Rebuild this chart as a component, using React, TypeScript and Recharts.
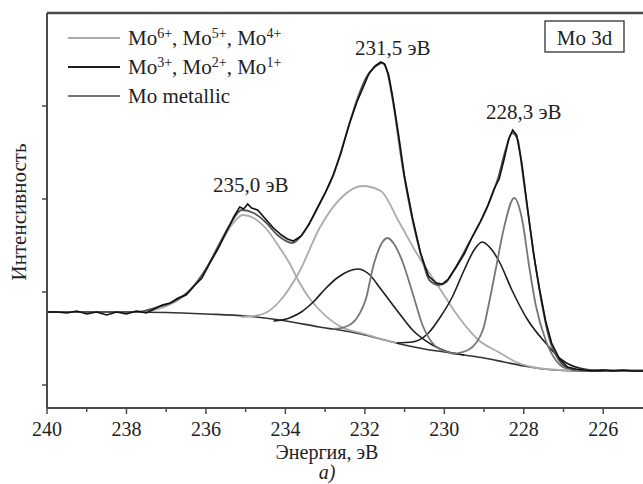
import React from 'react'
import { LineChart, Line, XAxis, YAxis } from 'recharts'

// Mo 3d spectrum: binding energy (eV) vs intensity (arb. units)
const bgEnergy = [240, 239, 238, 237, 236, 235, 234.14, 233.14, 232.1, 231.5, 231, 230.5, 230, 229.5, 229, 228.5, 228, 227.5, 227, 226, 225]
const bgIntensity = [73, 73, 73, 72.5, 71, 69, 65, 58, 51, 45, 40, 36, 33, 30, 27, 23, 19, 16, 14.5, 14, 14]

const mo6aEnergy = [238, 237.6, 237.2, 236.83, 236.4, 236, 235.65, 235.35, 235.07, 234.8, 234.5, 234.14, 233.9, 233.64, 233.4, 233.14, 232.64, 232, 231.6, 231.2]
const mo6aIntensity = [73, 73.5, 76, 82, 94, 116, 140, 160, 170, 167, 157, 137, 122, 102, 87, 75, 59, 51, 46, 42]

const mo6bEnergy = [235.1, 234.8, 234.5, 234.14, 233.64, 233.14, 232.6, 232.06, 231.6, 231.14, 230.64, 230.14, 229.64, 229.14, 228.64, 228.2, 227.8, 227.3, 226.8]
const mo6bIntensity = [68, 69, 72, 84, 114, 157, 187, 199, 194, 163, 128, 98, 68, 45, 33, 23, 18, 15.5, 14.5]

const mo3aEnergy = [234.3, 233.9, 233.6, 233.3, 233, 232.7, 232.4, 232.18, 231.9, 231.6, 231.2, 230.8, 230.3, 229.9, 229.5]
const mo3aIntensity = [64, 67, 73, 83, 96, 107, 114, 116, 111, 96, 75, 55, 40, 33, 30]

const mo3bEnergy = [231.2, 230.8, 230.4, 230.1, 229.8, 229.5, 229.25, 229.05, 228.8, 228.6, 228.3, 227.9, 227.45, 227.04, 226.6, 226]
const mo3bIntensity = [42, 43, 52, 68, 88, 115, 135, 143, 135, 122, 95, 65, 42, 25, 17, 14]

const metAEnergy = [232.8, 232.5, 232.2, 231.96, 231.8, 231.6, 231.43, 231.25, 231.05, 230.8, 230.55, 230.3, 230, 229.7]
const metAIntensity = [56, 58, 67, 88, 117, 140, 147, 140, 123, 92, 60, 42, 34, 31.5]

const metBEnergy = [229.8, 229.4, 229.03, 228.86, 228.7, 228.5, 228.24, 228.04, 227.87, 227.7, 227.45, 227.2, 226.96, 226.5]
const metBIntensity = [31, 35, 55, 85, 117, 157, 187, 165, 120, 80, 45, 25, 17, 14]

const fitEnergy = [240, 237.7, 237.3, 236.83, 236.4, 235.97, 235.65, 235.4, 235.1, 234.8, 234.5, 234.2, 233.82, 233.55, 233.31, 233.05, 232.81, 232.46, 232.2, 231.96, 231.75, 231.56, 231.45, 231.3, 231.05, 230.8, 230.55, 230.38, 230.13, 229.95, 229.8, 229.38, 228.95, 228.64, 228.46, 228.29, 228.15, 228.04, 227.87, 227.7, 227.53, 227.37, 227.12, 226.87, 226.5, 225]
const fitIntensity = [73, 73, 77, 83, 95, 118, 142, 160, 175, 172, 163, 150, 142, 152, 168, 188, 208, 252, 285, 308, 318, 322, 315, 285, 218, 165, 125, 105, 100, 103, 112, 142, 175, 208, 235, 252, 245, 215, 165, 118, 78, 48, 25, 17, 15, 14.5]

const expEnergy = [240, 239.75, 239.5, 239.25, 239, 238.75, 238.5, 238.25, 238, 237.75, 237.5, 237.3, 237.1, 236.9, 236.7, 236.5, 236.3, 236.1, 235.9, 235.7, 235.5, 235.3, 235.15, 235.05, 234.95, 234.85, 234.7, 234.5, 234.3, 234.1, 233.95, 233.8, 233.6, 233.4, 233.2, 233, 232.8, 232.6, 232.4, 232.2, 232.06, 231.9, 231.75, 231.6, 231.5, 231.4, 231.3, 231.15, 231, 230.8, 230.6, 230.4, 230.2, 230.05, 229.9, 229.7, 229.5, 229.3, 229.1, 228.9, 228.75, 228.62, 228.5, 228.38, 228.28, 228.18, 228.05, 227.9, 227.75, 227.6, 227.45, 227.3, 227.1, 226.9, 226.7, 226.5, 226.25, 226, 225.75, 225.5, 225.25, 225]
const expIntensity = [73, 73, 72, 74, 71, 73, 70, 73, 71, 74, 72, 76, 80, 82, 87, 90, 99, 107, 122, 136, 152, 168, 178, 176, 181, 177, 175, 166, 157, 150, 146, 144, 149, 161, 177, 192, 210, 232, 260, 283, 296, 311, 319, 323, 321, 310, 288, 250, 208, 167, 132, 109, 102, 101, 106, 118, 131, 148, 163, 180, 196, 206, 225, 246, 255, 250, 222, 175, 130, 95, 64, 42, 26, 18, 16, 15, 14, 15, 14, 15, 14, 14]

const allTicks = [240, 239, 238, 237, 236, 235, 234, 233, 232, 231, 230, 229, 228, 227, 226]
const yTicks = [0, 93, 186, 279]

const peakLabels = [
  { text: '235,0 эВ', x: 213, y: 192 },
  { text: '231,5 эВ', x: 355, y: 55 },
  { text: '228,3 эВ', x: 486, y: 119 },
]

const toPoints = (e: number[], v: number[]) => e.map((x, i) => ({ e: x, v: v[i] }))

const FONT = '"Liberation Serif", "Times New Roman", "DejaVu Serif", serif'
const AXIS = '#4a4a4a'
const LIGHT = '#ababab'
const DARK = '#1e1e1e'
const MID = '#767676'
const textStyle = { fontFamily: FONT, fontSize: 21, fill: '#222' }
const smallStyle = { ...textStyle, fontSize: 20 }

const EnergyTick = ({ x, y, payload }: any) => {
  const major = payload.value % 2 === 0
  return (
    <g>
      <line x1={x} x2={x} y1={y} y2={y + (major ? 6 : 4)} stroke={AXIS} strokeWidth={1.5} />
      {major && (
        <text x={x} y={y + 28} textAnchor="middle" style={smallStyle}>
          {payload.value}
        </text>
      )}
    </g>
  )
}

const Sup = ({ children }: { children: string }) => (
  <tspan baselineShift="super" style={{ fontSize: 14 }}>{children}</tspan>
)

export default function App() {
  const series = [
    { key: 'bg', data: toPoints(bgEnergy, bgIntensity), color: '#333', w: 1.6 },
    { key: 'mo6a', data: toPoints(mo6aEnergy, mo6aIntensity), color: LIGHT, w: 1.8 },
    { key: 'mo6b', data: toPoints(mo6bEnergy, mo6bIntensity), color: LIGHT, w: 1.8 },
    { key: 'mo3a', data: toPoints(mo3aEnergy, mo3aIntensity), color: DARK, w: 1.6 },
    { key: 'mo3b', data: toPoints(mo3bEnergy, mo3bIntensity), color: DARK, w: 1.6 },
    { key: 'metA', data: toPoints(metAEnergy, metAIntensity), color: MID, w: 1.8 },
    { key: 'metB', data: toPoints(metBEnergy, metBIntensity), color: MID, w: 1.8 },
    { key: 'fit', data: toPoints(fitEnergy, fitIntensity), color: '#555', w: 1.8 },
  ]

  return (
    <div style={{ position: 'absolute', left: 0, top: 0, width: 643, height: 484, background: '#fff' }}>
      <LineChart width={643} height={484} margin={{ top: 0, right: 0, bottom: 0, left: 0 }}>
        <XAxis
          dataKey="e"
          type="number"
          domain={[225, 240]}
          reversed
          ticks={allTicks}
          interval={0}
          height={76}
          tickSize={0}
          tickMargin={0}
          tick={<EnergyTick />}
          axisLine={{ stroke: AXIS, strokeWidth: 2 }}
          allowDataOverflow
        />
        <XAxis
          xAxisId="top"
          orientation="top"
          type="number"
          domain={[225, 240]}
          height={13}
          tick={false}
          tickLine={false}
          axisLine={{ stroke: AXIS, strokeWidth: 2.5 }}
        />
        <YAxis
          type="number"
          domain={[-23, 372]}
          ticks={yTicks}
          width={47}
          tickSize={5}
          tick={() => <g />}
          tickLine={{ stroke: AXIS, strokeWidth: 1.5 }}
          axisLine={{ stroke: AXIS, strokeWidth: 2 }}
          allowDataOverflow
        />
        {series.map((s) => (
          <Line
            key={s.key}
            data={s.data}
            dataKey="v"
            type="monotone"
            stroke={s.color}
            strokeWidth={s.w}
            dot={false}
            isAnimationActive={false}
          />
        ))}
        <Line
          data={toPoints(expEnergy, expIntensity)}
          dataKey="v"
          type="linear"
          stroke="#111"
          strokeWidth={1.6}
          dot={false}
          isAnimationActive={false}
        />
      </LineChart>

      <svg width={643} height={484} style={{ position: 'absolute', left: 0, top: 0, pointerEvents: 'none' }}>
        <line x1={68} x2={120} y1={38} y2={38} stroke={LIGHT} strokeWidth={2} />
        <text x={128} y={45} style={textStyle}>Mo<Sup>6+</Sup>, Mo<Sup>5+</Sup>, Mo<Sup>4+</Sup></text>
        <line x1={68} x2={120} y1={67} y2={67} stroke={DARK} strokeWidth={2} />
        <text x={128} y={74} style={textStyle}>Mo<Sup>3+</Sup>, Mo<Sup>2+</Sup>, Mo<Sup>1+</Sup></text>
        <line x1={68} x2={120} y1={96} y2={96} stroke={MID} strokeWidth={2} />
        <text x={128} y={103} style={textStyle}>Mo metallic</text>

        <rect x={545} y={21} width={79} height={31} fill="#fff" stroke="#222" strokeWidth={1.2} />
        <text x={584.5} y={45} textAnchor="middle" style={textStyle}>Mo 3d</text>

        {peakLabels.map((p) => (
          <text key={p.text} x={p.x} y={p.y} style={textStyle}>{p.text}</text>
        ))}

        <text x={327} y={459} textAnchor="middle" style={smallStyle}>Энергия, эВ</text>
        <text x={327} y={479} textAnchor="middle" style={{ ...smallStyle, fontStyle: 'italic' }}>а)</text>
        <text x={26} y={212} textAnchor="middle" transform="rotate(-90 26 212)" style={textStyle}>Интенсивность</text>
      </svg>
    </div>
  )
}
